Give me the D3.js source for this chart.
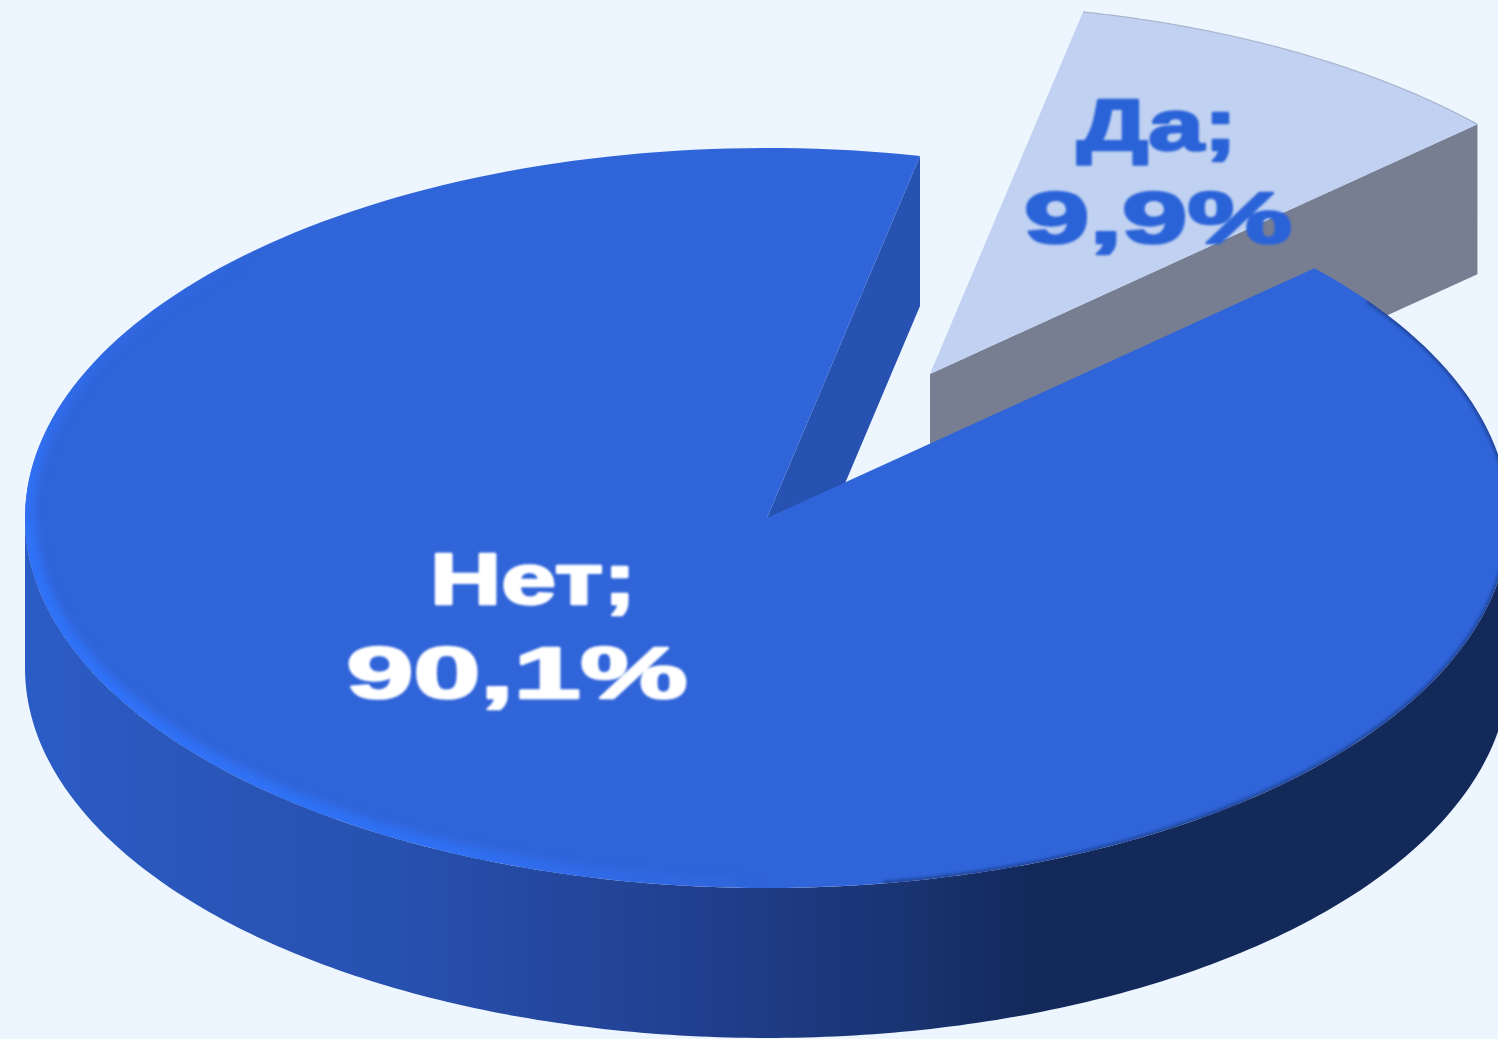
<!DOCTYPE html>
<html><head><meta charset="utf-8">
<script src="https://cdnjs.cloudflare.com/ajax/libs/d3/7.8.5/d3.min.js"></script>
<style>html,body{margin:0;padding:0;background:#edf6fe;overflow:hidden}svg{display:block}</style>
</head><body><svg id="c" width="1498" height="1039"></svg>
<script>
const categories = ["Да", "Нет"];
const shares = [9.9, 90.1];
const valueLabels = ["9,9%", "90,1%"];

const W = 1498, H = 1039;
const cx = 767, cy = 518, rx = 742, ry = 370, depth = 150;
const explode = {x: 163, y: -144};
const startDeg = 11.9;
const sx = d3.scaleLinear().domain([-1, 1]).range([cx - rx, cx + rx]);
const sy = d3.scaleLinear().domain([-1, 1]).range([cy - ry, cy + ry]);

const arcs = d3.pie().sort(null).value(d => d)
  .startAngle(startDeg * Math.PI / 180)
  .endAngle((startDeg + 360) * Math.PI / 180)(shares);

const pt = (a, dx = 0, dy = 0) => [sx(Math.sin(a)) + dx, sy(-Math.cos(a)) + dy];
const rim = (a0, a1, dx = 0, dy = 0) =>
  d3.range(0, 241).map(i => pt(a0 + (a1 - a0) * i / 240, dx, dy));
const line = d3.line();

const svg = d3.select("#c");
svg.append("rect").attr("width", W).attr("height", H).attr("fill", "#edf6fe");

const defs = svg.append("defs");
const grad = (id, x1, x2, stops, y1 = 0, y2 = 0) => {
  const g = defs.append("linearGradient").attr("id", id)
    .attr("gradientUnits", "userSpaceOnUse")
    .attr("x1", x1).attr("x2", x2).attr("y1", y1).attr("y2", y2);
  stops.forEach(s => g.append("stop").attr("offset", s[0]).attr("stop-color", s[1]).attr("stop-opacity", s[2] === undefined ? 1 : s[2]));
};
grad("wall", cx - rx, cx + rx, [[0, "#2b5cc6"], [0.1, "#2a57bb"], [0.25, "#2751b0"], [0.45, "#213f8f"], [0.6, "#183370"], [0.68, "#12295a"], [1, "#12295a"]]);
grad("bevelLow", cx - rx, cx, [[0, "#2f72f8", 1], [0.55, "#2f72f8", 0.85], [1, "#2f72f8", 0]]);
grad("bevelUp", 0, 0, [[0, "#2f72f8", 0], [0.35, "#2f72f8", 0.25], [1, "#2f72f8", 1]], cy - ry * 0.75, cy);
defs.append("filter").attr("id", "soft").attr("x", "-5%").attr("y", "-5%").attr("width", "110%").attr("height", "110%")
  .append("feGaussianBlur").attr("stdDeviation", 4);
defs.append("filter").attr("id", "thin").attr("x", "-5%").attr("y", "-5%").attr("width", "110%").attr("height", "110%")
  .append("feGaussianBlur").attr("stdDeviation", 1.5);
defs.append("filter").attr("id", "txt").attr("x", "-5%").attr("y", "-10%").attr("width", "110%").attr("height", "120%")
  .append("feGaussianBlur").attr("stdDeviation", 0.9);

const yes = arcs[0], no = arcs[1];

// exploded "Да" slice
const ex = explode.x, ey = explode.y;
const g1 = svg.append("g");
g1.append("path")
  .attr("d", line([pt(yes.endAngle, ex, ey), pt(yes.endAngle, ex, ey + depth), [cx + ex, cy + ey + depth], [cx + ex, cy + ey]]) + "Z")
  .attr("fill", "#777e92");
g1.append("path")
  .attr("d", line([[cx + ex, cy + ey], ...rim(yes.startAngle, yes.endAngle, ex, ey)]) + "Z")
  .attr("fill", "#c0d1f1");
g1.append("path")
  .attr("d", line(rim(yes.startAngle, yes.endAngle, ex, ey)))
  .attr("fill", "none").attr("stroke", "#a9b5cc").attr("stroke-width", 1.2);

// main "Нет" slice: inner wall, outer wall, top
const g2 = svg.append("g");
const a0 = no.endAngle;
g2.append("path")
  .attr("d", line([[cx, cy], pt(a0), pt(a0, 0, depth), [cx, cy + depth]]) + "Z")
  .attr("fill", "#2852b1");
g2.append("path")
  .attr("d", line([...rim(Math.PI / 2, Math.PI * 1.5), ...rim(Math.PI * 1.5, Math.PI / 2, 0, depth)]) + "Z")
  .attr("fill", "url(#wall)");
const topPath = line([[cx, cy], ...rim(no.startAngle, no.endAngle)]) + "Z";
g2.append("path").attr("d", topPath).attr("fill", "#3064d9");
defs.append("clipPath").attr("id", "topClip").append("path").attr("d", topPath);
const bevels = g2.append("g").attr("clip-path", "url(#topClip)");
// bright bevel: lower-left rim, fading towards the front and upwards
bevels.append("path")
  .attr("d", line(rim(Math.PI * 1.0, Math.PI * 1.5)))
  .attr("fill", "none").attr("stroke", "url(#bevelLow)").attr("stroke-width", 22)
  .attr("filter", "url(#soft)");
bevels.append("path")
  .attr("d", line(rim(Math.PI * 1.5, Math.PI * 1.75)))
  .attr("fill", "none").attr("stroke", "url(#bevelUp)").attr("stroke-width", 18)
  .attr("filter", "url(#soft)");
// dark edge: right rim
bevels.append("path")
  .attr("d", line(rim(Math.PI * 0.3, Math.PI * 0.95)))
  .attr("fill", "none").attr("stroke", "#16306c").attr("stroke-opacity", 0.55).attr("stroke-width", 5)
  .attr("filter", "url(#thin)");

// labels
const labelSpec = [
  {i: 0, color: "#2b63d8", nameX: 1157, nameY: 150, nameLen: 160, valX: 1158, valY: 243, valLen: 268},
  {i: 1, color: "#ffffff", nameX: 533, nameY: 604, nameLen: 206, valX: 517, valY: 698, valLen: 341}
];
const t = svg.append("g").attr("filter", "url(#txt)").attr("font-family", "'Liberation Sans', sans-serif")
  .attr("font-weight", 700).attr("font-size", 72).attr("text-anchor", "middle")
  .attr("stroke-linejoin", "round");
labelSpec.forEach(s => {
  [[categories[s.i] + ";", s.nameX, s.nameY, s.nameLen], [valueLabels[s.i], s.valX, s.valY, s.valLen]].forEach(d => {
    t.append("text").text(d[0]).attr("x", d[1]).attr("y", d[2])
      .attr("textLength", d[3]).attr("lengthAdjust", "spacingAndGlyphs")
      .attr("fill", s.color).attr("stroke", s.color).attr("stroke-width", 2.5);
  });
});
</script></body></html>
